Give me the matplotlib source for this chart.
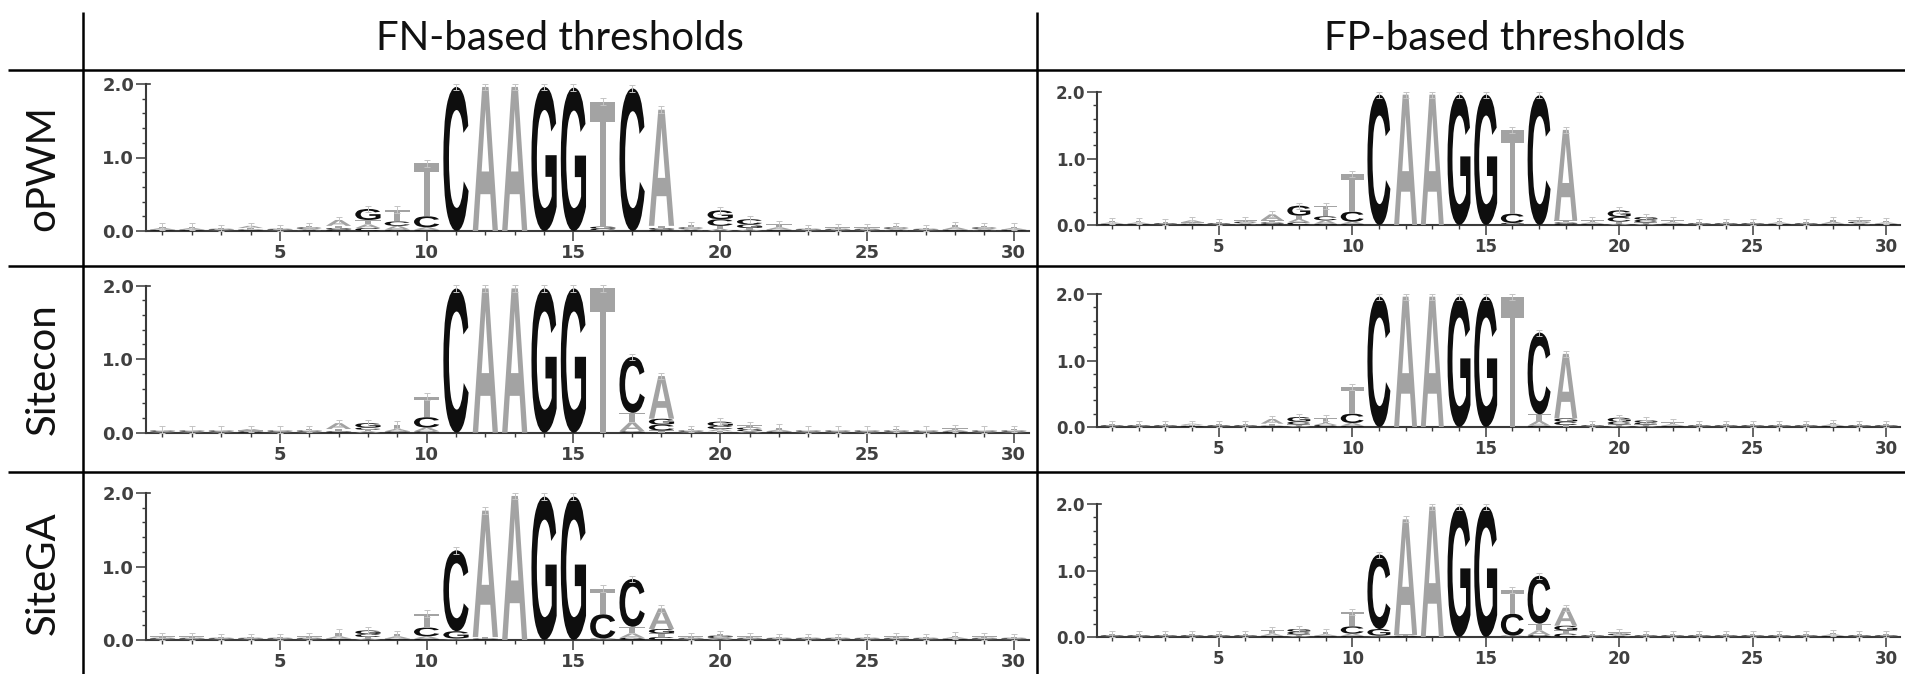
import matplotlib
matplotlib.use("Agg")
import matplotlib.pyplot as plt
from matplotlib.textpath import TextPath
from matplotlib.patches import PathPatch
from matplotlib.font_manager import FontProperties
from matplotlib.transforms import Affine2D, blended_transform_factory
from matplotlib.ticker import FixedLocator, MultipleLocator

# ---------------------------------------------------------------- data
POSITIONS = list(range(1, 31))
COLUMN_TITLES = ["FN-based thresholds", "FP-based thresholds"]
ROW_TITLES = ["oPWM", "Sitecon", "SiteGA"]
Y_TICKS = [0.0, 1.0, 2.0]
Y_TICK_LABELS = ["0.0", "1.0", "2.0"]
X_TICKS = [5, 10, 15, 20, 25, 30]

# information content (bits) of each nucleotide, positions 1..30
FN_OPWM_A = [.02, .02, .01, .03, .01, .02, .08, .05, .05, .03, 0, 1.96, 1.96, 0, 0,
             .01, 0, 1.58, .02, .03, .02, .03, .01, .01, .01, .02, .01, .03, .02, .02]
FN_OPWM_C = [.01, .01, .01, .01, .01, .02, .02, .04, .06, .15, 1.96, 0, 0, 0, 0,
             .02, 1.94, .02, .02, .09, .07, .01, .01, .01, .01, .02, .01, .01, .02, .01]
FN_OPWM_G = [.01, .01, .01, .01, .01, .01, .02, .15, .02, .02, 0, 0, 0, 1.96, 1.95,
             .03, 0, .02, .01, .12, .05, .01, .01, .01, .01, .01, .01, .01, .01, .01]
FN_OPWM_T = [.02, .02, .01, .02, .01, .02, .03, .06, .16, .72, 0, 0, 0, 0, 0,
             1.70, 0, .03, .03, .04, .02, .04, .01, .02, .02, .02, .01, .03, .02, .02]

FN_SITECON_A = [.01, .01, .01, .02, .01, .01, .08, .02, .03, .05, 0, 1.96, 1.96, 0, 0,
                0, .12, .58, .01, .03, .02, .02, .01, .01, .01, .01, .01, .02, .01, .01]
FN_SITECON_C = [.01, .01, .01, .01, .01, .01, .01, .03, .01, .14, 1.96, 0, 0, 0, 0,
                0, .76, .08, .01, .04, .03, .01, .01, .01, .01, .01, .01, .01, .01, .01]
FN_SITECON_G = [.01, .01, .01, .01, .01, .01, .01, .06, .01, .02, 0, 0, 0, 1.96, 1.96,
                0, .02, .08, .01, .06, .02, .01, .01, .01, .01, .01, .01, .01, .01, .01]
FN_SITECON_T = [.01, .01, .01, .01, .01, .02, .03, .02, .06, .28, 0, 0, 0, 0, 0,
                1.96, .13, .03, .02, .02, .03, .03, .01, .01, .01, .02, .01, .02, .01, .02]

FN_SITEGA_A = [.01, .01, .01, .01, .01, .01, .03, .02, .03, .03, .01, 1.72, 1.96, 0, 0,
               .01, .06, .28, .01, .02, .01, .01, .01, .01, .01, .01, .01, .02, .01, .01]
FN_SITEGA_C = [.01, .01, .01, .01, .01, .01, .01, .04, .01, .12, 1.10, .01, 0, 0, 0,
               .33, .65, .04, .01, .02, .01, .01, .01, .01, .01, .01, .01, .01, .01, .01]
FN_SITEGA_G = [.01, .01, .01, .01, .01, .01, .01, .05, .01, .02, .10, .01, 0, 1.95, 1.95,
               .01, .03, .06, .01, .02, .01, .01, .01, .01, .01, .01, .01, .01, .01, .01]
FN_SITEGA_T = [.02, .02, .01, .01, .01, .02, .05, .02, .03, .19, .01, .02, 0, 0, 0,
               .35, .09, .05, .02, .02, .02, .01, .01, .01, .01, .02, .01, .02, .02, .01]

FP_OPWM_A = [.02, .02, .01, .03, .01, .02, .09, .05, .05, .03, 0, 1.96, 1.96, 0, 0,
             .01, 0, 1.36, .02, .02, .02, .02, .01, .01, .01, .02, .01, .03, .02, .02]
FP_OPWM_C = [.01, .01, .01, .01, .01, .02, .02, .04, .06, .15, 1.96, 0, 0, 0, 0,
             .14, 1.95, .02, .01, .07, .04, .01, .01, .01, .01, .01, .01, .01, .02, .01]
FP_OPWM_G = [.01, .01, .01, .01, .01, .01, .02, .15, .02, .02, 0, 0, 0, 1.96, 1.96,
             .02, 0, .02, .01, .10, .04, .01, .01, .01, .01, .01, .01, .01, .01, .01]
FP_OPWM_T = [.02, .02, .01, .02, .01, .02, .03, .05, .16, .56, 0, 0, 0, 0, 0,
             1.26, 0, .03, .03, .03, .02, .03, .01, .02, .02, .02, .01, .03, .02, .02]

FP_SITECON_A = [.01, .01, .01, .02, .01, .01, .07, .02, .03, .04, 0, 1.96, 1.96, 0, 0,
                0, .07, .97, .01, .02, .02, .02, .01, .01, .01, .01, .01, .02, .01, .01]
FP_SITECON_C = [.01, .01, .01, .01, .01, .01, .01, .04, .02, .14, 1.96, 0, 0, 0, 0,
                0, 1.23, .05, .01, .04, .03, .01, .01, .01, .01, .01, .01, .01, .01, .01]
FP_SITECON_G = [.01, .01, .01, .01, .01, .01, .01, .07, .01, .02, 0, 0, 0, 1.96, 1.96,
                0, .02, .05, .01, .06, .03, .01, .01, .01, .01, .01, .01, .01, .01, .01]
FP_SITECON_T = [.01, .01, .01, .01, .01, .02, .03, .02, .08, .40, 0, 0, 0, 0, 0,
                1.96, .10, .03, .02, .02, .02, .03, .01, .01, .01, .02, .01, .02, .01, .02]

FP_SITEGA_A = [.01, .01, .01, .01, .01, .01, .03, .02, .02, .03, .01, 1.73, 1.96, 0, 0,
               .01, .07, .27, .01, .02, .01, .01, .01, .01, .01, .01, .01, .02, .01, .01]
FP_SITEGA_C = [.01, .01, .01, .01, .01, .01, .01, .04, .01, .11, 1.12, .01, 0, 0, 0,
               .33, .72, .05, .01, .01, .01, .01, .01, .01, .01, .01, .01, .01, .01, .01]
FP_SITEGA_G = [.01, .01, .01, .01, .01, .01, .01, .04, .01, .02, .10, .01, 0, 1.96, 1.96,
               .01, .03, .07, .01, .02, .01, .01, .01, .01, .01, .01, .01, .01, .01, .01]
FP_SITEGA_T = [.02, .02, .01, .01, .01, .02, .05, .02, .04, .22, .01, .02, 0, 0, 0,
               .36, .10, .05, .02, .02, .02, .01, .01, .01, .01, .02, .01, .02, .02, .01]

# logos arranged as [row][column]
LOGOS = [
    [dict(A=FN_OPWM_A, C=FN_OPWM_C, G=FN_OPWM_G, T=FN_OPWM_T),
     dict(A=FP_OPWM_A, C=FP_OPWM_C, G=FP_OPWM_G, T=FP_OPWM_T)],
    [dict(A=FN_SITECON_A, C=FN_SITECON_C, G=FN_SITECON_G, T=FN_SITECON_T),
     dict(A=FP_SITECON_A, C=FP_SITECON_C, G=FP_SITECON_G, T=FP_SITECON_T)],
    [dict(A=FN_SITEGA_A, C=FN_SITEGA_C, G=FN_SITEGA_G, T=FN_SITEGA_T),
     dict(A=FP_SITEGA_A, C=FP_SITEGA_C, G=FP_SITEGA_G, T=FP_SITEGA_T)],
]

# ---------------------------------------------------------------- style
W, H = 1906, 674
LETTER_COLORS = {"A": "#a3a3a3", "T": "#a3a3a3", "C": "#0e0e0e", "G": "#0e0e0e"}
AXIS_COLOR = "#3a3a3a"
ERR = 0.045
LETTER_WIDTH = 0.86
XLIM = (0.44, 30.52)

# pixel boxes of the logo axes: column x-range and per-row (y of 0 bits, y of 2 bits)
COL_X = [(146, 1029), (1097, 1900)]
ROW_Y = [
    [(231, 84), (432.7, 285.5), (640, 493)],
    [(225, 92), (427, 294), (637, 504)],
]
TICK_FS = [13, 12]

HEAD_FONT = ["Lato", "DejaVu Sans"]
TICK_FONT = dict(family="DejaVu Sans", weight="bold", color="#404040")
GLYPH_FONT = FontProperties(family="Liberation Sans", weight="bold")
GLYPHS = {ch: TextPath((0, 0), ch, size=1, prop=GLYPH_FONT) for ch in "ACGT"}


def draw_letter(ax, ch, x, y0, h):
    path = GLYPHS[ch]
    bb = path.get_extents()
    tr = (Affine2D()
          .translate(-bb.x0, -bb.y0)
          .scale(LETTER_WIDTH / bb.width, h / bb.height)
          .translate(x - LETTER_WIDTH / 2, y0))
    ax.add_patch(PathPatch(tr.transform_path(path), facecolor=LETTER_COLORS[ch],
                           edgecolor="none", lw=0, zorder=3))


def draw_logo(ax, logo, fs):
    tops = []
    for i, pos in enumerate(POSITIONS):
        stack = sorted(((logo[ch][i], ch) for ch in "ACGT"), key=lambda t: t[0])
        y = 0.0
        for h, ch in stack:
            if h > 0.004:
                draw_letter(ax, ch, pos, y, h)
            y += h
        tops.append(y)
    ax.errorbar(POSITIONS, tops, yerr=ERR, fmt="none", ecolor="#c4c4c4",
                elinewidth=0.7, capsize=2.0, capthick=0.7, zorder=4, clip_on=False)

    ax.set_xlim(*XLIM)
    ax.set_ylim(0, 2.0)
    for side in ("top", "right"):
        ax.spines[side].set_visible(False)
    for side in ("left", "bottom"):
        ax.spines[side].set_color(AXIS_COLOR)
        ax.spines[side].set_linewidth(1.5)
    ax.yaxis.set_major_locator(FixedLocator(Y_TICKS))
    ax.set_yticklabels(Y_TICK_LABELS, fontsize=fs, **TICK_FONT)
    ax.yaxis.set_minor_locator(MultipleLocator(0.2))
    ax.xaxis.set_major_locator(FixedLocator(X_TICKS))
    ax.set_xticklabels([str(t) for t in X_TICKS], fontsize=fs, **TICK_FONT)
    ax.xaxis.set_minor_locator(FixedLocator(POSITIONS))
    ax.tick_params(which="major", length=7, width=1.1, color=AXIS_COLOR, pad=1.5)
    ax.tick_params(which="minor", length=3, width=1.0, color=AXIS_COLOR)
    ax.tick_params(axis="x", which="major", pad=2.5)
    # short cap at the top of the bit axis
    bt = blended_transform_factory(ax.transAxes, ax.transData)
    ax.plot([0, 0.005], [2.0, 2.0], color=AXIS_COLOR, lw=1.2, transform=bt,
            clip_on=False)
    ax.patch.set_alpha(0)


fig = plt.figure(figsize=(W / 100, H / 100), dpi=100)
fig.patch.set_facecolor("white")

# table frame in pixel coordinates
bg = fig.add_axes([0, 0, 1, 1])
bg.set_xlim(0, W)
bg.set_ylim(H, 0)
bg.axis("off")
for y in (70, 266, 472):
    bg.plot([8, W], [y, y], color="black", lw=1.8, solid_capstyle="butt")
for x in (83, 1037.5):
    bg.plot([x, x], [12, H], color="black", lw=1.8, solid_capstyle="butt")

bg.text(560, 39, COLUMN_TITLES[0], ha="center", va="center", fontsize=29,
        family=HEAD_FONT, color="#111111")
bg.text(1505, 39, COLUMN_TITLES[1], ha="center", va="center", fontsize=29,
        family=HEAD_FONT, color="#111111")
for r, title in enumerate(ROW_TITLES):
    yc = [168, 369, 573][r]
    bg.text(43, yc, title, ha="center", va="center", rotation=90, fontsize=29,
            family=HEAD_FONT, color="#111111")

for c in range(2):
    x0, x1 = COL_X[c]
    for r in range(3):
        yb, yt = ROW_Y[c][r]
        ax = fig.add_axes([x0 / W, 1 - yb / H, (x1 - x0) / W, (yb - yt) / H])
        draw_logo(ax, LOGOS[r][c], TICK_FS[c])

fig.savefig("out.png", dpi=100, facecolor="white")
